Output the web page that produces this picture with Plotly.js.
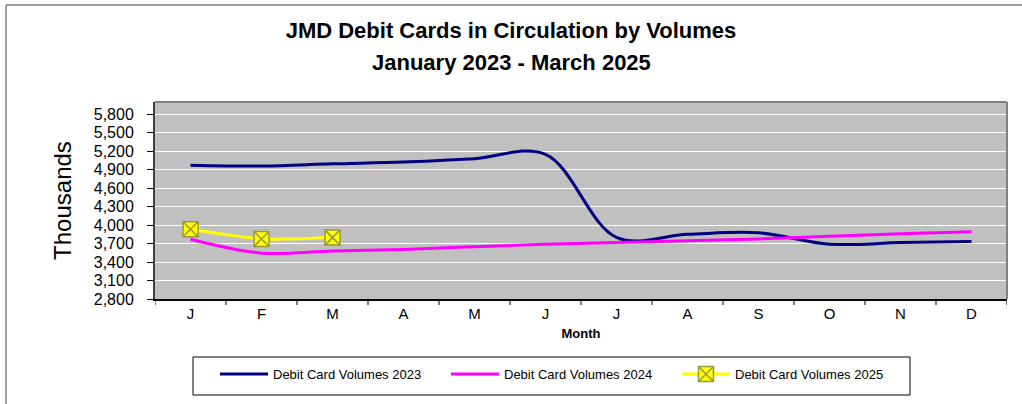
<!DOCTYPE html>
<html>
<head>
<meta charset="utf-8">
<script src="https://cdn.plot.ly/plotly-3.0.1.min.js"></script>
<style>html,body{margin:0;padding:0;background:#fff;}#chart{width:1022px;height:404px;}</style>
</head>
<body>
<div id="chart"></div>
<script>
const months = ["J","F","M","A","M","J","J","A","S","O","N","D"];
const monthIds = [0,1,2,3,4,5,6,7,8,9,10,11];
const volumes2023 = [4974, 4960, 4995, 5025, 5080, 5150, 3800, 3850, 3875, 3690, 3716, 3733];
const volumes2024 = [3770, 3545, 3580, 3605, 3650, 3690, 3716, 3745, 3776, 3820, 3860, 3893];
const volumes2025 = [3933, 3776, 3797];
const seriesNames = ["Debit Card Volumes 2023","Debit Card Volumes 2024","Debit Card Volumes 2025"];
const titleLine1 = "JMD Debit Cards in Circulation by Volumes";
const titleLine2 = "January 2023 - March 2025";

const traces = [
  {x: monthIds, y: volumes2023, name: seriesNames[0], type: "scatter", mode: "lines",
   line: {color: "#000080", width: 3, shape: "spline", smoothing: 1}},
  {x: monthIds, y: volumes2024, name: seriesNames[1], type: "scatter", mode: "lines",
   line: {color: "#FF00FF", width: 3, shape: "spline", smoothing: 1}},
  {x: monthIds.slice(0, volumes2025.length), y: volumes2025, name: seriesNames[2], type: "scatter", mode: "lines+markers",
   line: {color: "#FFFF00", width: 3, shape: "spline", smoothing: 0.6},
   marker: {symbol: "square-x", size: 15, color: "#FFFF00", line: {color: "#9a9a3a", width: 1.5}}}
];

const W = 852, H = 197, L = 155, T = 102;
const px = x => (x - L) / W;
const py = y => (T + H - y) / H;

const layout = {
  width: 1022, height: 404,
  margin: {l: L, r: 15, t: T, b: 105, autoexpand: false},
  paper_bgcolor: "#ffffff",
  plot_bgcolor: "#C0C0C0",
  font: {family: "Liberation Sans, Arial, sans-serif", color: "#000"},
  title: {
    text: "<b>" + titleLine1 + "</b>",
    font: {family: "Liberation Sans, Arial, sans-serif", size: 22, color: "#000"},
    x: 0.5, xref: "container", xanchor: "center",
    y: 1 - 30/404, yref: "container", yanchor: "middle"
  },
  annotations: [
    {text: "<b>" + titleLine2 + "</b>", xref: "paper", yref: "paper",
     x: px(511), y: py(62), xanchor: "center", yanchor: "middle", showarrow: false,
     font: {family: "Liberation Sans, Arial, sans-serif", size: 22, color: "#000"}}
  ],
  xaxis: {
    type: "linear",
    range: [-0.5, 11.5],
    tickmode: "array", tickvals: monthIds, ticktext: months,
    ticks: "", showgrid: false, zeroline: false,
    showline: true, linecolor: "#000", linewidth: 1.5,
    tickfont: {size: 15},
    title: {text: "<b>Month</b>", font: {size: 13}, standoff: 8},
    fixedrange: true
  },
  yaxis: {
    range: [2800, 6000],
    tick0: 2800, dtick: 300,
    tickformat: ",d",
    ticks: "outside", ticklen: 6, tickcolor: "#000", tickwidth: 1,
    showline: true, linecolor: "#404040", linewidth: 2,
    showgrid: true, gridcolor: "#ffffff", gridwidth: 1,
    zeroline: false,
    tickfont: {size: 16},
    ticklabelstandoff: 10,
    title: {text: "Thousands", font: {size: 24}, standoff: 15},
    fixedrange: true
  },
  showlegend: true,
  legend: {
    orientation: "h",
    x: px(215), xanchor: "left",
    y: py(359), yanchor: "top",
    bgcolor: "rgba(0,0,0,0)", borderwidth: 0,
    font: {size: 13},
    entrywidth: 168, entrywidthmode: "pixels",
    itemwidth: 48,
    traceorder: "normal"
  },
  shapes: [
    {type: "line", xref: "paper", yref: "paper", x0: 0, x1: 1, y0: 1, y1: 1, line: {color: "#808080", width: 2}},
    {type: "line", xref: "paper", yref: "paper", x0: 1, x1: 1, y0: 0, y1: 1, line: {color: "#808080", width: 2}},
    {type: "line", xref: "paper", yref: "paper", x0: px(6), x1: px(1022), y0: py(5), y1: py(5), line: {color: "#808080", width: 1.5}},
    {type: "line", xref: "paper", yref: "paper", x0: px(6), x1: px(6), y0: py(5), y1: py(404), line: {color: "#808080", width: 1.5}},
    {type: "rect", xref: "paper", yref: "paper", x0: px(193), x1: px(910), y0: py(357), y1: py(395),
     line: {color: "#000", width: 1}, fillcolor: "rgba(0,0,0,0)"}
  ]
};

for (let i = 0; i <= months.length; i++) {
  layout.shapes.push({type: "line", xref: "x", yref: "paper", x0: i - 0.5, x1: i - 0.5, y0: 0, y1: -6/H,
    line: {color: "#000", width: 1}});
}

Plotly.newPlot("chart", traces, layout, {displayModeBar: false, staticPlot: true});
</script>
</body>
</html>
